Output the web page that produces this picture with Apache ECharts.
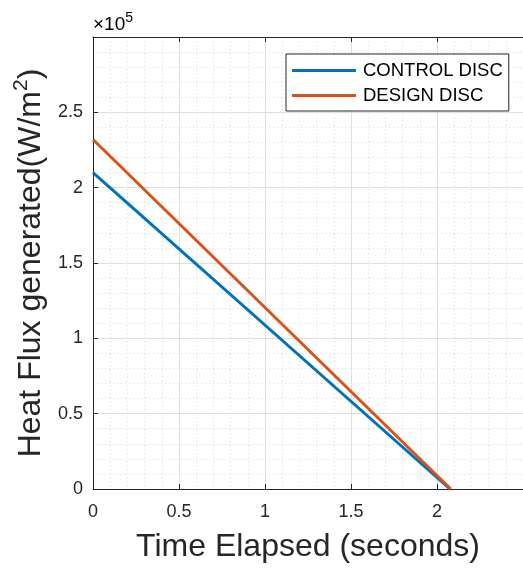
<!DOCTYPE html>
<html>
<head>
<meta charset="utf-8">
<script src="https://cdn.jsdelivr.net/npm/echarts@6/dist/echarts.min.js"></script>
<style>html,body{margin:0;padding:0;background:#fff;}#c{width:523px;height:568px;}</style>
</head>
<body>
<div id="c"></div>
<script>
const seriesNames = ['CONTROL DISC', 'DESIGN DISC'];
const controlTime = [0, 2.075];
const controlFlux = [2.10e5, 0];
const designTime = [0, 2.08];
const designFlux = [2.32e5, 0];
const xTicks = [0, 0.5, 1, 1.5, 2];
const yTicks = [0, 0.5, 1, 1.5, 2, 2.5];

const FONT = '"Liberation Sans", Arial, Helvetica, sans-serif';
const TXT = '#262626';
const chart = echarts.init(document.getElementById('c'));
const pairs = (xs, ys) => xs.map((x, i) => [x, ys[i]]);

chart.setOption({
  animation: false,
  backgroundColor: '#fff',
  textStyle: { fontFamily: FONT },
  grid: { left: 93, top: 37, width: 433.5, height: 453, containLabel: false },
  legend: {
    data: seriesNames,
    orient: 'vertical',
    left: 286, top: 54,
    backgroundColor: '#fff',
    borderColor: TXT, borderWidth: 1, borderRadius: 0,
    padding: [7, 6, 6, 6],
    itemGap: 6,
    itemWidth: 64, itemHeight: 3,
    icon: 'rect',
    textStyle: { fontFamily: FONT, fontSize: 18.5, color: '#000', padding: [0, 0, 0, 2] }
  },
  graphic: [{
    type: 'text', left: 93, top: 11,
    style: {
      text: '{a|×10}{b|5}',
      rich: {
        a: { fontFamily: FONT, fontSize: 19, color: TXT, verticalAlign: 'bottom' },
        b: { fontFamily: FONT, fontSize: 14, color: TXT, verticalAlign: 'top', padding: [0, 0, 9, 0] }
      }
    }
  }],
  xAxis: [{
    type: 'value', min: 0, max: 2.5, interval: 0.5,
    position: 'bottom',
    name: 'Time Elapsed (seconds)', nameLocation: 'middle', nameGap: 42,
    nameTextStyle: { fontFamily: FONT, fontSize: 32, color: TXT },
    axisLine: { show: true, onZero: false, lineStyle: { color: TXT, width: 1 } },
    axisTick: { show: true, inside: true, length: 5, lineStyle: { color: TXT } },
    axisLabel: { fontFamily: FONT, fontSize: 18, color: TXT, margin: 14,
      showMaxLabel: false,
      formatter: v => xTicks.indexOf(+v.toFixed(2)) >= 0 ? String(+v.toFixed(2)) : '' },
    splitLine: { show: true, lineStyle: { color: '#dfdfdf', width: 1 } },
    minorTick: { show: false, splitNumber: 5 },
    minorSplitLine: { show: true, lineStyle: { color: '#d6d6d6', width: 1, type: [1, 3] } }
  }, {
    type: 'value', min: 0, max: 2.5, interval: 0.5,
    position: 'top',
    axisLine: { show: true, onZero: false, lineStyle: { color: TXT, width: 1 } },
    axisTick: { show: true, inside: true, length: 5, lineStyle: { color: TXT } },
    axisLabel: { show: false },
    splitLine: { show: false }
  }],
  yAxis: [{
    type: 'value', min: 0, max: 3e5, interval: 0.5e5,
    name: '{n|Heat Flux generated(W/m}{s|2}{n|)}',
    nameLocation: 'middle', nameGap: 46, nameRotate: 90,
    nameTextStyle: {
      rich: {
        n: { fontFamily: FONT, fontSize: 32, color: TXT, verticalAlign: 'bottom' },
        s: { fontFamily: FONT, fontSize: 21, color: TXT, verticalAlign: 'top', padding: [0, 0, 15, 0] }
      }
    },
    axisLine: { show: true, onZero: false, lineStyle: { color: TXT, width: 1 } },
    axisTick: { show: true, inside: true, length: 5, lineStyle: { color: TXT } },
    axisLabel: { fontFamily: FONT, fontSize: 18, color: TXT, margin: 10,
      showMaxLabel: false,
      formatter: v => { const t = +(v / 1e5).toFixed(2); return yTicks.indexOf(t) >= 0 ? String(t) : ''; } },
    splitLine: { show: true, lineStyle: { color: '#dfdfdf', width: 1 } },
    minorTick: { show: false, splitNumber: 5 },
    minorSplitLine: { show: true, lineStyle: { color: '#d6d6d6', width: 1, type: [1, 3] } }
  }],
  series: [{
    name: seriesNames[0], type: 'line', xAxisIndex: 0,
    data: pairs(controlTime, controlFlux),
    showSymbol: false, symbol: 'none',
    itemStyle: { color: '#0072BD' },
    lineStyle: { color: '#0072BD', width: 3 }
  }, {
    name: seriesNames[1], type: 'line', xAxisIndex: 0,
    data: pairs(designTime, designFlux),
    showSymbol: false, symbol: 'none',
    itemStyle: { color: '#D95319' },
    lineStyle: { color: '#D95319', width: 3 }
  }]
});
</script>
</body>
</html>
